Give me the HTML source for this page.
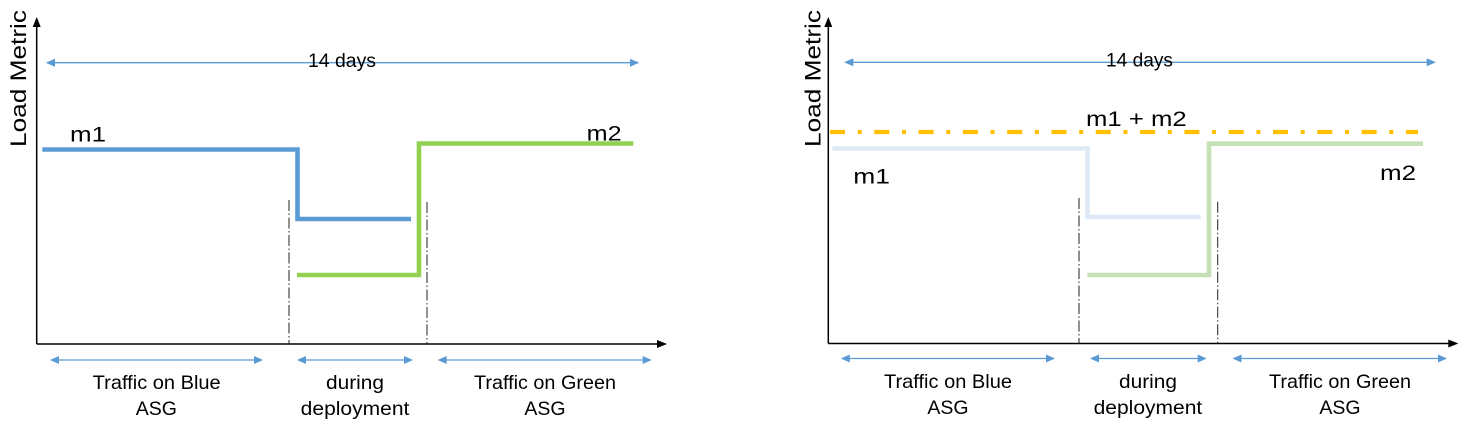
<!DOCTYPE html>
<html>
<head>
<meta charset="utf-8">
<style>
  html,body{margin:0;padding:0;background:#ffffff;}
  svg{display:block;}
  text{font-family:"Liberation Sans", Arial, sans-serif;fill:#000;}
</style>
</head>
<body>
<svg width="1469" height="429" viewBox="0 0 1469 429" xmlns="http://www.w3.org/2000/svg">
  <rect x="0" y="0" width="1469" height="429" fill="#ffffff"/>

  <!-- ================= LEFT CHART ================= -->
  <line x1="36.7" y1="344" x2="36.7" y2="26" stroke="#000" stroke-width="1.5"/>
  <polygon points="36.7,17 32.7,27 40.7,27" fill="#000"/>
  <line x1="36.7" y1="344" x2="658" y2="344" stroke="#000" stroke-width="1.5"/>
  <polygon points="667,344 657,340 657,348" fill="#000"/>

  <text transform="translate(26,147) rotate(-90)" font-size="22" textLength="137" lengthAdjust="spacingAndGlyphs">Load Metric</text>

  <line x1="54" y1="62.7" x2="631" y2="62.7" stroke="#5B9BD5" stroke-width="1.3"/>
  <polygon points="45.7,62.7 55,58.7 55,66.7" fill="#5B9BD5"/>
  <polygon points="639.3,62.7 630,58.7 630,66.7" fill="#5B9BD5"/>
  <text x="308" y="67" font-size="19.5" textLength="68" lengthAdjust="spacingAndGlyphs">14 days</text>

  <polyline points="42.3,149.5 297.5,149.5 297.5,219 411,219" fill="none" stroke="#5B9BD5" stroke-width="4.6" stroke-linejoin="miter"/>
  <polyline points="297,275 419,275 419,143.5 633.3,143.5" fill="none" stroke="#92D050" stroke-width="4.6" stroke-linejoin="miter"/>

  <text x="70" y="141.7" font-size="21.5" textLength="36" lengthAdjust="spacingAndGlyphs">m1</text>
  <text x="586.7" y="140.5" font-size="21.5" textLength="35" lengthAdjust="spacingAndGlyphs">m2</text>

  <line x1="289" y1="200" x2="289" y2="344" stroke="#222" stroke-width="1" stroke-dasharray="11 2.5 1.5 2.5"/>
  <line x1="427" y1="202" x2="427" y2="344" stroke="#222" stroke-width="1" stroke-dasharray="11 2.5 1.5 2.5"/>

  <line x1="58" y1="360" x2="255" y2="360" stroke="#5B9BD5" stroke-width="1.3"/>
  <polygon points="50,360 59,356 59,364" fill="#5B9BD5"/>
  <polygon points="263,360 254,356 254,364" fill="#5B9BD5"/>

  <line x1="305" y1="360" x2="405" y2="360" stroke="#5B9BD5" stroke-width="1.3"/>
  <polygon points="297,360 306,356 306,364" fill="#5B9BD5"/>
  <polygon points="413,360 404,356 404,364" fill="#5B9BD5"/>

  <line x1="446" y1="360" x2="643" y2="360" stroke="#5B9BD5" stroke-width="1.3"/>
  <polygon points="437.7,360 446.7,356 446.7,364" fill="#5B9BD5"/>
  <polygon points="651.7,360 642.7,356 642.7,364" fill="#5B9BD5"/>

  <text x="92.7" y="389" font-size="19.5" textLength="128" lengthAdjust="spacingAndGlyphs">Traffic on Blue</text>
  <text x="156.3" y="415" font-size="19.5" text-anchor="middle">ASG</text>
  <text x="326" y="389" font-size="19.5" textLength="58" lengthAdjust="spacingAndGlyphs">during</text>
  <text x="300.7" y="415" font-size="19.5" textLength="108.7" lengthAdjust="spacingAndGlyphs">deployment</text>
  <text x="474" y="389" font-size="19.5" textLength="142" lengthAdjust="spacingAndGlyphs">Traffic on Green</text>
  <text x="545" y="415" font-size="19.5" text-anchor="middle">ASG</text>

  <!-- ================= RIGHT CHART ================= -->
  <line x1="828.3" y1="343.5" x2="828.3" y2="26" stroke="#000" stroke-width="1.5"/>
  <polygon points="828.3,17 824.3,27 832.3,27" fill="#000"/>
  <line x1="828.3" y1="343.5" x2="1449" y2="343.5" stroke="#000" stroke-width="1.5"/>
  <polygon points="1458.3,343.5 1448.3,339.5 1448.3,347.5" fill="#000"/>

  <text transform="translate(820.5,147) rotate(-90)" font-size="22" textLength="137" lengthAdjust="spacingAndGlyphs">Load Metric</text>

  <line x1="852" y1="62.3" x2="1428" y2="62.3" stroke="#5B9BD5" stroke-width="1.3"/>
  <polygon points="844,62.3 853.3,58.3 853.3,66.3" fill="#5B9BD5"/>
  <polygon points="1436,62.3 1426.7,58.3 1426.7,66.3" fill="#5B9BD5"/>
  <text x="1106" y="66.6" font-size="19.5" textLength="67" lengthAdjust="spacingAndGlyphs">14 days</text>

  <line x1="830" y1="132" x2="1418" y2="132" stroke="#FFC000" stroke-width="4.2" stroke-dasharray="15 12.7 4 12.6"/>
  <text x="1086" y="126" font-size="21.5" textLength="100.7" lengthAdjust="spacingAndGlyphs">m1 + m2</text>

  <polyline points="832.3,148.5 1087.5,148.5 1087.5,217 1200.7,217" fill="none" stroke="#DDEAF6" stroke-width="4.6" stroke-linejoin="miter"/>
  <polyline points="1087.3,275 1209,275 1209,143.7 1423,143.7" fill="none" stroke="#C5E0B4" stroke-width="4.6" stroke-linejoin="miter"/>

  <text x="853.3" y="183.3" font-size="21.5" textLength="36.7" lengthAdjust="spacingAndGlyphs">m1</text>
  <text x="1380" y="180" font-size="21.5" textLength="36" lengthAdjust="spacingAndGlyphs">m2</text>

  <line x1="1079" y1="198" x2="1079" y2="343.5" stroke="#222" stroke-width="1" stroke-dasharray="11 2.5 1.5 2.5"/>
  <line x1="1217.7" y1="201.7" x2="1217.7" y2="343.5" stroke="#222" stroke-width="1" stroke-dasharray="11 2.5 1.5 2.5"/>

  <line x1="849" y1="358.5" x2="1047" y2="358.5" stroke="#5B9BD5" stroke-width="1.3"/>
  <polygon points="840.8,358.5 849.8,354.5 849.8,362.5" fill="#5B9BD5"/>
  <polygon points="1055,358.5 1046,354.5 1046,362.5" fill="#5B9BD5"/>

  <line x1="1098" y1="358.5" x2="1199" y2="358.5" stroke="#5B9BD5" stroke-width="1.3"/>
  <polygon points="1090,358.5 1099,354.5 1099,362.5" fill="#5B9BD5"/>
  <polygon points="1206.7,358.5 1197.7,354.5 1197.7,362.5" fill="#5B9BD5"/>

  <line x1="1241" y1="358.5" x2="1439" y2="358.5" stroke="#5B9BD5" stroke-width="1.3"/>
  <polygon points="1232.5,358.5 1241.5,354.5 1241.5,362.5" fill="#5B9BD5"/>
  <polygon points="1447,358.5 1438,354.5 1438,362.5" fill="#5B9BD5"/>

  <text x="884" y="388" font-size="19.5" textLength="128" lengthAdjust="spacingAndGlyphs">Traffic on Blue</text>
  <text x="948" y="414" font-size="19.5" text-anchor="middle">ASG</text>
  <text x="1119" y="388" font-size="19.5" textLength="58" lengthAdjust="spacingAndGlyphs">during</text>
  <text x="1093.6" y="414" font-size="19.5" textLength="108.7" lengthAdjust="spacingAndGlyphs">deployment</text>
  <text x="1269" y="388" font-size="19.5" textLength="142" lengthAdjust="spacingAndGlyphs">Traffic on Green</text>
  <text x="1340" y="414" font-size="19.5" text-anchor="middle">ASG</text>
</svg>
</body>
</html>
